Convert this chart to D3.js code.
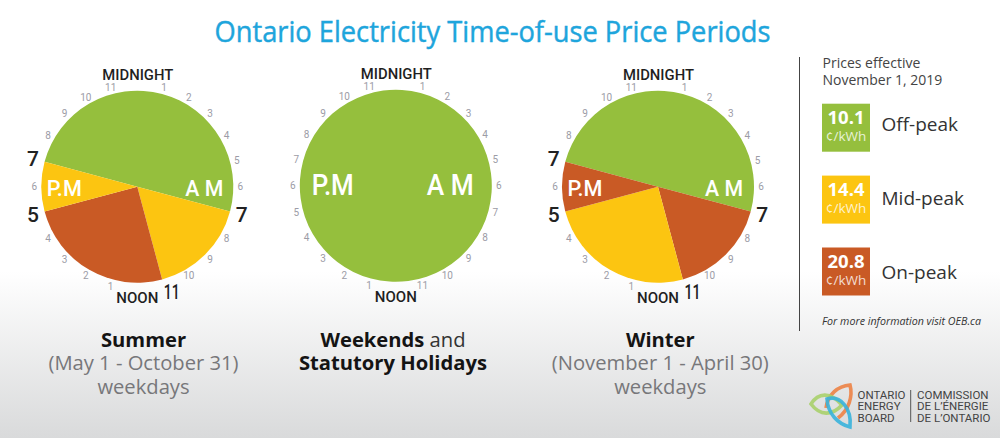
<!DOCTYPE html>
<html><head><meta charset="utf-8">
<script src="https://cdn.jsdelivr.net/npm/d3@7"></script>
<style>html,body{margin:0;padding:0;background:#fff}svg{display:block}text{font-family:"Open Sans",sans-serif}</style>
</head><body><svg id="c" width="1000" height="438"></svg>
<script>
const GREEN="#95bf3d",YEL="#fcc511",RED="#c95a25";
const hourLabels=[1,2,3,4,5,6,7,8,9,10,11];
const summerHours=[12,4,6,2];
const summerColors=[GREEN,YEL,RED,YEL];
const winterHours=[12,4,6,2];
const winterColors=[GREEN,RED,YEL,RED];
const holidayHours=[24];
const holidayColors=[GREEN];
const legendNames=["Off-peak","Mid-peak","On-peak"];
const legendPrices=["10.1","14.4","20.8"];
const legendColors=[GREEN,YEL,RED];

const svg=d3.select("#c");
const defs=svg.append("defs");
const g=defs.append("linearGradient").attr("id","bg").attr("x1",0).attr("x2",0).attr("y1",0).attr("y2",1);
g.append("stop").attr("offset","0.62").attr("stop-color","#ffffff");
g.append("stop").attr("offset","1").attr("stop-color","#d9dadb");
svg.append("rect").attr("width",1000).attr("height",438).attr("fill","url(#bg)");

svg.append("text").attr("x",492.5).attr("y",41.5).attr("text-anchor","middle").attr("font-size",29.5)
 .attr("textLength",556).attr("lengthAdjust","spacingAndGlyphs").attr("fill","#1ea5dc").attr("stroke","#1ea5dc").attr("stroke-width",0.45).text("Ontario Electricity Time-of-use Price Periods");

const hourAngle=d3.scaleLinear().domain([0,24]).range([0,2*Math.PI]);
const R=96;
function polar(h,r){const a=hourAngle(h);return [r*Math.sin(a),-r*Math.cos(a)];}

function clock(cx,cy,hours,colors,opts){
 const c=svg.append("g").attr("transform",`translate(${cx},${cy})`);
 const start=hourAngle(19);
 const pie=d3.pie().sort(null).startAngle(start).endAngle(start+2*Math.PI)(hours);
 const arc=d3.arc().innerRadius(0).outerRadius(R);
 c.selectAll("path").data(pie).join("path").attr("d",arc).attr("fill",(d,i)=>colors[i]);
 const all=[...hourLabels,...hourLabels.map(h=>h+12)];
 c.selectAll("text.h").data(all.filter(h=>!opts.bold.includes(h))).join("text").attr("class","h")
  .attr("x",h=>polar(h,103)[0]).attr("y",h=>polar(h,103)[1]).attr("dy","0.36em")
  .attr("text-anchor","middle").attr("font-size",10).attr("fill","#9c9ca6")
  .style("font-family","Roboto").text(h=>h>12?h-12:h);
 c.selectAll("text.b").data(opts.bold).join("text").attr("class","b")
  .attr("x",h=>polar(h,108)[0]+(h===11?6.5:0)).attr("y",h=>polar(h,108)[1]+(h===11?0.5:0)).attr("dy","0.36em")
  .attr("text-anchor","middle").attr("font-size",21).attr("font-weight",500).attr("fill","#222")
  .each(function(h){if(h===11)d3.select(this).attr("textLength",16).attr("lengthAdjust","spacingAndGlyphs");})
  .style("font-family","Roboto").text(h=>h>12?h-12:h);
 c.append("text").attr("x",0.5).attr("y",-106.5).attr("text-anchor","middle").attr("font-size",15.5).attr("font-weight",500)
  .attr("textLength",71).attr("lengthAdjust","spacingAndGlyphs")
  .attr("fill","#1f1f1f").style("font-family","Roboto").text("MIDNIGHT");
 c.append("text").attr("x",0).attr("y",116.5).attr("text-anchor","middle").attr("font-size",15.5).attr("font-weight",500)
  .attr("textLength",42).attr("lengthAdjust","spacingAndGlyphs")
  .attr("fill","#1f1f1f").style("font-family","Roboto").text("NOON");
 const fs=opts.big?30:22.5;
 const lw=opts.big?[42,47]:[35,38];
 c.append("text").attr("x",opts.pm[0]).attr("y",opts.pm[1]).attr("text-anchor","middle").attr("font-size",fs).attr("font-weight",500)
  .attr("textLength",lw[0]).attr("lengthAdjust","spacingAndGlyphs")
  .attr("fill","#fff").style("font-family","Roboto").text("P.M");
 c.append("text").attr("x",opts.am[0]).attr("y",opts.am[1]).attr("text-anchor","middle").attr("font-size",fs).attr("font-weight",500)
  .attr("textLength",lw[1]).attr("lengthAdjust","spacingAndGlyphs")
  .attr("fill","#fff").style("font-family","Roboto").text("A M");
}
clock(137.3,186.7,summerHours,summerColors,{bold:[7,11,17,19],pm:[-73,9.3],am:[67,9.3]});
clock(395.8,185.8,holidayHours,holidayColors,{bold:[],pm:[-63,9],am:[54.5,9],big:true});
clock(658,186.7,winterHours,winterColors,{bold:[7,11,17,19],pm:[-73,9.3],am:[66,9.3]});

function caption(cx,lines){
 lines.forEach((parts,i)=>{
  const t=svg.append("text").attr("x",cx).attr("y",346.5+i*23.5).attr("text-anchor","middle").attr("font-size",20.2);
  parts.forEach(p=>t.append("tspan").attr("font-weight",p[1]?700:400).attr("fill",p[2]).text(p[0]));
 });
}
const DK="#141414",GR="#77777a";
caption(143.5,[[["Summer",1,DK]],[["(May 1 - October 31)",0,GR]],[["weekdays",0,GR]]]);
caption(393,[[["Weekends",1,DK],[" and",0,"#333"]],[["Statutory Holidays",1,DK]]]);
caption(660.3,[[["Winter",1,DK]],[["(November 1 - April 30)",0,GR]],[["weekdays",0,GR]]]);

svg.append("line").attr("x1",799.5).attr("x2",799.5).attr("y1",57).attr("y2",331).attr("stroke","#444").attr("stroke-width",1);
svg.append("text").attr("x",822.5).attr("y",68.3).attr("font-size",14).attr("fill","#444").text("Prices effective");
svg.append("text").attr("x",822.5).attr("y",84.5).attr("font-size",14).attr("fill","#444").text("November 1, 2019");
const ly=d3.scalePoint().domain(legendNames).range([103.7,247.5]);
const ny=d3.scalePoint().domain(legendNames).range([131,279]);
legendNames.forEach((n,i)=>{
 const y=ly(n);
 svg.append("rect").attr("x",822).attr("y",y).attr("width",48).attr("height",48).attr("fill",legendColors[i]);
 svg.append("text").attr("x",846).attr("y",y+20.5).attr("text-anchor","middle").attr("font-size",18.5).attr("font-weight",700).attr("fill","#fff").text(legendPrices[i]);
 svg.append("text").attr("x",846).attr("y",y+37).attr("text-anchor","middle").attr("font-size",13.5).attr("fill","#fff").attr("fill-opacity",0.8).text("¢/kWh");
 svg.append("text").attr("x",881.5).attr("y",ny(n)).attr("font-size",19).attr("fill","#333").text(n);
});
svg.append("text").attr("x",822).attr("y",325).attr("font-size",10).attr("font-style","italic").attr("fill","#333").attr("textLength",159).attr("lengthAdjust","spacingAndGlyphs").text("For more information visit OEB.ca");

// logo
const logo=svg.append("g").attr("fill","none").attr("stroke-width",3.6);
logo.append("path").attr("d","M826 408 C828 394 838 386 850 385 C853 396 849 410 838 418").attr("stroke","#ec8c55");
logo.append("path").attr("d","M811 404 C818 393 830 391 842 405 C832 416 820 416 811 404Z").attr("stroke","#a9d06b").attr("stroke-opacity",.9);
logo.append("path").attr("d","M827 399 C840 395 852 408 850 427 C838 424 828 414 827 399Z").attr("stroke","#39b2dc").attr("stroke-opacity",.9);
const lt=["ONTARIO","ENERGY","BOARD"],rt=["COMMISSION","DE L’ÉNERGIE","DE L’ONTARIO"];
lt.forEach((s,i)=>svg.append("text").attr("x",857.5).attr("y",398.5+i*11.5).attr("font-size",11.5).attr("fill","#444").style("font-family","Roboto").text(s));
rt.forEach((s,i)=>svg.append("text").attr("x",917).attr("y",398.5+i*11.5).attr("font-size",11.5).attr("fill","#444").style("font-family","Roboto").text(s));
svg.append("line").attr("x1",910.7).attr("x2",910.7).attr("y1",390).attr("y2",422).attr("stroke","#555");
</script></body></html>
